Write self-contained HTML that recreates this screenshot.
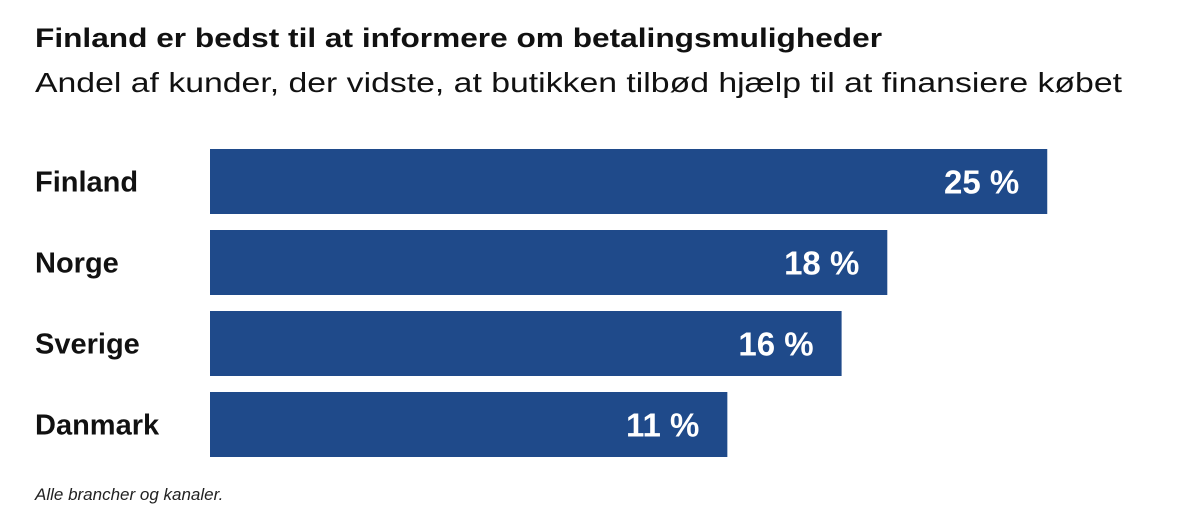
<!DOCTYPE html>
<html><head><meta charset="utf-8"><style>
html,body{margin:0;padding:0;background:#fff;}
svg{display:block;font-family:"Liberation Sans",sans-serif;}
</style></head><body>
<svg id="chart" width="1200" height="530" viewBox="0 0 1200 530" xmlns="http://www.w3.org/2000/svg">
<text x="35" y="47" font-size="27" font-weight="bold" fill="#111" textLength="847" lengthAdjust="spacingAndGlyphs">Finland er bedst til at informere om betalingsmuligheder</text>
<text x="35" y="92" font-size="28" fill="#111" textLength="1087" lengthAdjust="spacingAndGlyphs">Andel af kunder, der vidste, at butikken tilbød hjælp til at finansiere købet</text>
<g id="bars"></g>
<text x="35" y="500" font-size="17" font-style="italic" fill="#222">Alle brancher og kanaler.</text>
</svg>
<script>
const categories = ["Finland", "Norge", "Sverige", "Danmark"];
const values = [25, 18, 16, 11];
const valueLabels = ["25 %", "18 %", "16 %", "11 %"];

const x0 = 210, top0 = 149, barH = 65, pitch = 81;
function xScale(v){ return 266 + 22.85 * v; }
function yScale(i){ return top0 + i * pitch; }
const ns = "http://www.w3.org/2000/svg";
const g = document.getElementById("bars");
categories.forEach((c, i) => {
  const y = yScale(i), w = xScale(values[i]);
  const lab = document.createElementNS(ns, "text");
  
  
  lab.setAttribute("x", 35); lab.setAttribute("y", y + barH/2 + 10);
  lab.setAttribute("font-size", "29"); lab.setAttribute("font-weight", "bold"); lab.setAttribute("fill", "#111");
  lab.textContent = c; g.appendChild(lab);
  const r = document.createElementNS(ns, "rect");
  
  
  r.setAttribute("x", x0); r.setAttribute("y", y); r.setAttribute("width", w); r.setAttribute("height", barH);
  r.setAttribute("fill", "#1f4a8a"); g.appendChild(r);
  const t = document.createElementNS(ns, "text");
  
  
  t.setAttribute("x", x0 + w - 28); t.setAttribute("y", y + barH/2 + 12);
  t.setAttribute("text-anchor", "end"); t.setAttribute("font-size", "33"); t.setAttribute("font-weight", "bold"); t.setAttribute("fill", "#fff");
  t.textContent = valueLabels[i]; g.appendChild(t);
});
</script>
</body></html>
